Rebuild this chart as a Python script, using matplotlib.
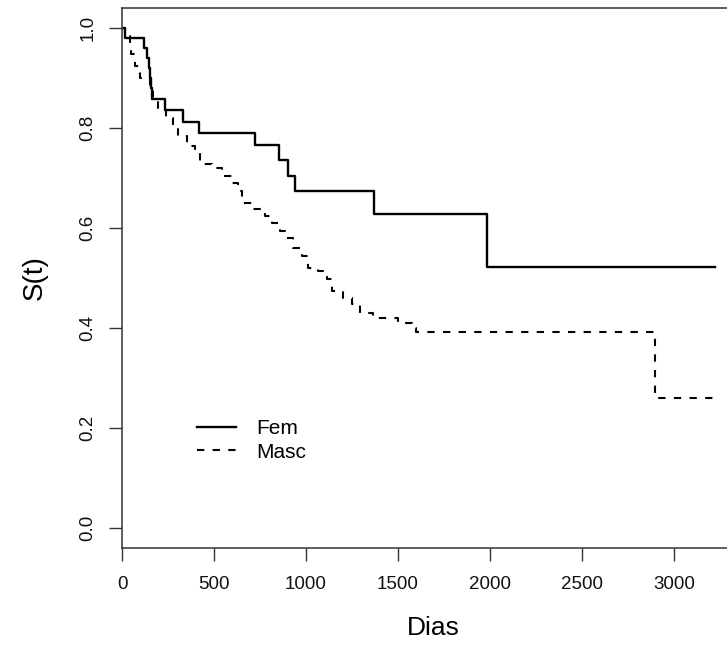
import numpy as np
import matplotlib
matplotlib.use("Agg")
import matplotlib.pyplot as plt

plt.rcParams['font.family'] = ['Liberation Sans', 'DejaVu Sans']

# Kaplan-Meier estimates (time in days, S(t) after each drop)
fem_t = [0, 15, 121, 137, 145, 150, 157, 165, 236, 333, 420, 723, 855, 904, 940, 1370, 1986, 3223]
fem_s = [1.0, 0.98, 0.96, 0.94, 0.92, 0.90, 0.88, 0.858, 0.836, 0.813, 0.79, 0.766, 0.737,
         0.705, 0.675, 0.628, 0.523, 0.523]

masc_t = [0, 15, 42, 51, 69, 96, 150, 168, 196, 241, 279, 306, 352, 397, 424, 487, 542, 596,
          632, 650, 705, 777, 814, 859, 886, 931, 976, 1013, 1067, 1112, 1139, 1203, 1248,
          1293, 1366, 1502, 1574, 1600, 2897, 3223]
masc_s = [1.0, 0.985, 0.97, 0.948, 0.925, 0.90, 0.885, 0.861, 0.841, 0.821, 0.805, 0.785,
          0.765, 0.75, 0.728, 0.721, 0.705, 0.691, 0.675, 0.651, 0.639, 0.625, 0.611, 0.595,
          0.58, 0.561, 0.545, 0.521, 0.515, 0.498, 0.475, 0.461, 0.448, 0.431, 0.421, 0.411,
          0.401, 0.393, 0.261, 0.261]

xticks = [0, 500, 1000, 1500, 2000, 2500, 3000]
yticks = [0.0, 0.2, 0.4, 0.6, 0.8, 1.0]

fig = plt.figure(figsize=(7.27, 6.49), dpi=100)
ax = fig.add_axes([122/727, 101/649, 623/727, 540/649])

ax.step(fem_t, fem_s, where='post', color='black', lw=1.7, label='Fem')
ax.step(masc_t, masc_s, where='post', color='black', lw=1.5, dashes=(3.5, 4.0), label='Masc')

ax.set_xlim(0, 3386)
ax.set_ylim(-0.04, 1.04)
ax.set_xticks(xticks)
ax.set_xticklabels([str(v) for v in xticks])
ax.set_yticks(yticks)
ax.set_yticklabels([f'{v:.1f}' for v in yticks], rotation=90, va='center')

ax.tick_params(axis='both', direction='out', length=9.5, width=1.0, labelsize=13.5,
               color='#333333', labelcolor='#111111')
ax.tick_params(axis='x', pad=11)
ax.tick_params(axis='y', pad=9)

for sp in ax.spines.values():
    sp.set_linewidth(1.1)
    sp.set_color('#333333')

ax.set_xlabel('Dias', fontsize=19, labelpad=16)
ax.set_ylabel('S(t)', fontsize=20, labelpad=23)

ax.legend(loc='center left', bbox_to_anchor=(408, 0.175), bbox_transform=ax.transData,
          frameon=False, fontsize=15, handlelength=1.87, handletextpad=0.96,
          labelspacing=0.2, borderpad=0, borderaxespad=0)

fig.savefig('out.png', dpi=100)
